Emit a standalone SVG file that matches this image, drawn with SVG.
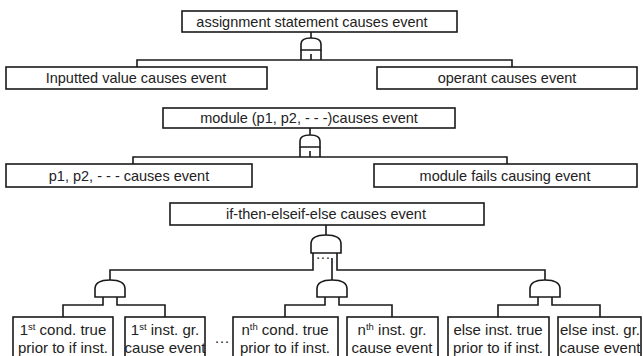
<svg xmlns="http://www.w3.org/2000/svg" width="643" height="356" viewBox="0 0 643 356">
<style>
.box{fill:#fff;stroke:#1a1a1a;stroke-width:1.6}
.ln{fill:none;stroke:#1a1a1a;stroke-width:1.6}
.gate{fill:#fff;stroke:#1a1a1a;stroke-width:1.6}
text{font-family:"Liberation Sans",Arial,sans-serif;fill:#222;text-anchor:middle}
.t1{font-size:14.5px}
.t2{font-size:15px}
.sup{font-size:9.5px}
</style>
<rect width="643" height="356" fill="#fff"/>
<g id="connectors">
  <path class="ln" d="M311,32 V38 M301,50 V60 M321,50 V60 M311,54 V60 M137,67 V60 H512 V67"/>
  <path class="ln" d="M310,128 V135 M300,147 V157 M320,147 V157 M310,151 V157 M133,164 V157 H507 V164"/>
  <path class="ln" d="M326,225 V235 M313,253 V270 H110 V280 M337,253 V270 H545 V280 M332,258 V280"/>
  <path class="ln" d="M103,297 V305 H63 V317 M117,297 V305 H165 V317"/>
  <path class="ln" d="M325,297 V305 H285 V317 M339,297 V305 H392 V317"/>
  <path class="ln" d="M538,297 V305 H498 V317 M552,297 V305 H600 V317"/>
</g>
<g id="n_assign"><rect class="box" x="182" y="11" width="275" height="21"/><text class="t1" x="312" y="27">assignment statement causes event</text></g>
<g id="g_assign"><path class="gate" d="M301,50 V44 Q301,38 311,38 Q321,38 321,44 V50 Z"/></g>
<g id="n_input"><rect class="box" x="6" y="67" width="261" height="22"/><text class="t1" x="136" y="83">Inputted value causes event</text></g>
<g id="n_operant"><rect class="box" x="377" y="67" width="260" height="22"/><text class="t1" x="507" y="83">operant causes event</text></g>
<g id="n_module"><rect class="box" x="163" y="108" width="292" height="20"/><text class="t1" x="309" y="123">module (p1, p2, - - -)causes event</text></g>
<g id="g_module"><path class="gate" d="M300,147 V141 Q300,135 310,135 Q320,135 320,141 V147 Z"/></g>
<g id="n_params"><rect class="box" x="6" y="164" width="246" height="23"/><text class="t1" x="129" y="181">p1, p2, - - - causes event</text></g>
<g id="n_fails"><rect class="box" x="374" y="164" width="263" height="23"/><text class="t1" x="505" y="181">module fails causing event</text></g>
<g id="n_if"><rect class="box" x="170" y="203" width="314" height="22"/><text class="t1" x="326" y="219">if-then-elseif-else causes event</text></g>
<g id="g_if"><path class="gate" d="M311,253 V244 Q311,235 326,235 Q341,235 341,244 V253 Z"/><text class="t1" x="323" y="262">···</text></g>
<g id="g_and1"><path class="gate" d="M95,297 V289 Q95,280 110,280 Q125,280 125,289 V297 Z"/></g>
<g id="g_and2"><path class="gate" d="M317,297 V289 Q317,280 332,280 Q347,280 347,289 V297 Z"/></g>
<g id="g_and3"><path class="gate" d="M530,297 V289 Q530,280 545,280 Q560,280 560,289 V297 Z"/></g>
<g id="n_c1"><rect class="box" x="13" y="317" width="100" height="45"/><text class="t2" x="63" y="335">1<tspan class="sup" dy="-5">st</tspan><tspan dy="5"> cond. true</tspan></text><text class="t2" x="63" y="353">prior to if inst.</text></g>
<g id="n_i1"><rect class="box" x="125" y="317" width="80" height="45"/><text class="t2" x="165" y="335">1<tspan class="sup" dy="-5">st</tspan><tspan dy="5"> inst. gr.</tspan></text><text class="t2" x="165" y="353">cause event</text></g>
<text class="t2" x="222" y="346">···</text>
<g id="n_cn"><rect class="box" x="233" y="317" width="105" height="45"/><text class="t2" x="285" y="335">n<tspan class="sup" dy="-5">th</tspan><tspan dy="5"> cond. true</tspan></text><text class="t2" x="285" y="353">prior to if inst.</text></g>
<g id="n_in"><rect class="box" x="347" y="317" width="91" height="45"/><text class="t2" x="392" y="335">n<tspan class="sup" dy="-5">th</tspan><tspan dy="5"> inst. gr.</tspan></text><text class="t2" x="392" y="353">cause event</text></g>
<g id="n_ce"><rect class="box" x="448" y="317" width="101" height="45"/><text class="t2" x="498" y="335">else inst. true</text><text class="t2" x="498" y="353">prior to if inst.</text></g>
<g id="n_ie"><rect class="box" x="558" y="317" width="83" height="45"/><text class="t2" x="600" y="335">else inst. gr.</text><text class="t2" x="600" y="353">cause event</text></g>
</svg>
